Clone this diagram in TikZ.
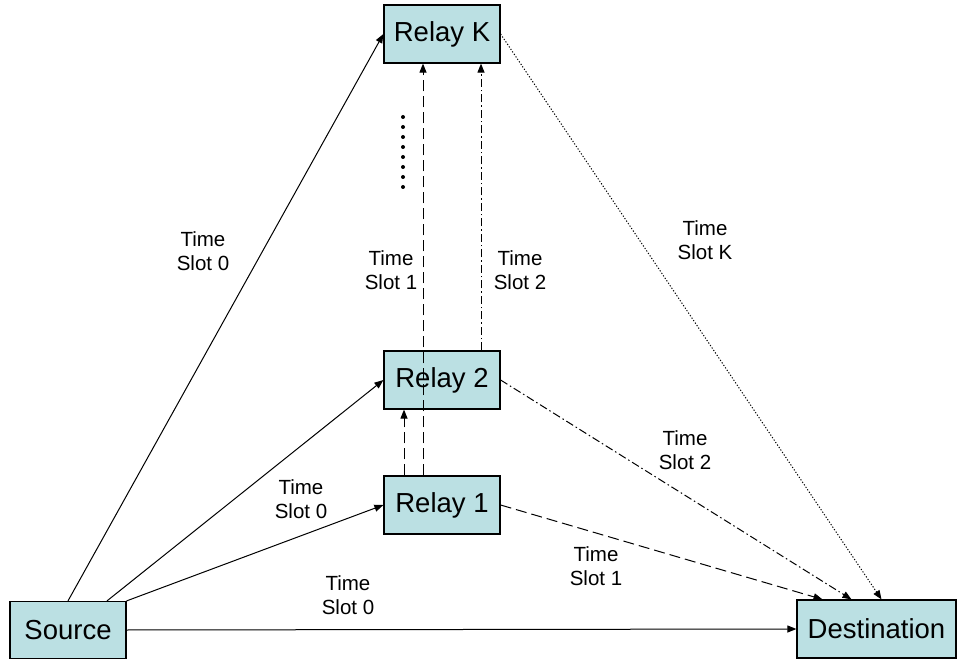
\documentclass[tikz,border=0pt]{standalone}
\usepackage{fontspec}
\setmainfont{Liberation Sans}
\usetikzlibrary{positioning,arrows.meta}
\definecolor{relaycyan}{HTML}{BBE0E3}

\begin{document}
\begin{tikzpicture}[x=1pt, y=-1pt,
      box/.style={draw, fill=relaycyan, line width=1.2pt, inner sep=0pt,
                  minimum height=58pt, minimum width=116pt,
                  font=\fontsize{27.5}{33}\selectfont},
      lbl/.style={align=center, inner sep=0pt, font=\fontsize{20.5}{24}\selectfont},
      arr/.style={-{Triangle[length=9pt,width=7pt]}, line width=1pt},
      ldash/.style={dash pattern=on 11pt off 5pt},
      ddot/.style={dash pattern=on 8pt off 3pt on 1.5pt off 3pt},
      fdot/.style={dash pattern=on 1.2pt off 1.8pt}]
    \useasboundingbox (0,0) rectangle (959,660);
    % boxes
    \node[box] (rk) at (442,34) {Relay K};
    \node[box] (r2) at (442,380) {Relay 2};
    \node[box] (r1) at (442,505) {Relay 1};
    \node[box, minimum height=57pt] (src) at (68,630) {Source};
    \node[box, minimum width=159pt] (dst) at (876.5,629) {Destination};
    % dots between relays
    \foreach \k in {0,...,7}
      \fill (403,117+10*\k) circle (2pt);
    % source to everyone, time slot 0
    \draw[arr] (src.north) -- (rk.west);
    \draw[arr] ([xshift=39pt]src.north) -- (r2.west);
    \draw[arr] (src.north east) -- (r1.west);
    \draw[arr] (src.east) -- (dst.west);
    % relays up the chain
    \draw[arr, ldash] ([xshift=-38pt]r1.north) -- ([xshift=-38pt]r2.south);
    \draw[arr, ldash] ([xshift=-19pt]r1.north) -- ([xshift=-19pt]rk.south);
    \draw[arr, ddot] ([xshift=39pt]r2.north) -- ([xshift=39pt]rk.south);
    % relays to destination
    \draw[arr, ldash] (r1.east) -- ([xshift=-54pt]dst.north);
    \draw[arr, ddot] (r2.east) -- ([xshift=-25pt]dst.north);
    \draw[arr, fdot] (rk.east) -- ([xshift=5pt]dst.north);
    % labels
    \node[lbl] (l0a) at (203,251) {Time\\Slot 0};
    \node[lbl] (l0b) at (301,499) {Time\\Slot 0};
    \node[lbl] (l0c) at (348,595) {Time\\Slot 0};
    \node[lbl] (l1a) at (391,270) {Time\\Slot 1};
    \node[lbl] (l2a) at (520,270) {Time\\Slot 2};
    \node[lbl] (l1b) at (596,566) {Time\\Slot 1};
    \node[lbl] (l2b) at (685,450) {Time\\Slot 2};
    \node[lbl] (lk) at (705,240) {Time\\Slot K};
  \end{tikzpicture}
\end{document}
